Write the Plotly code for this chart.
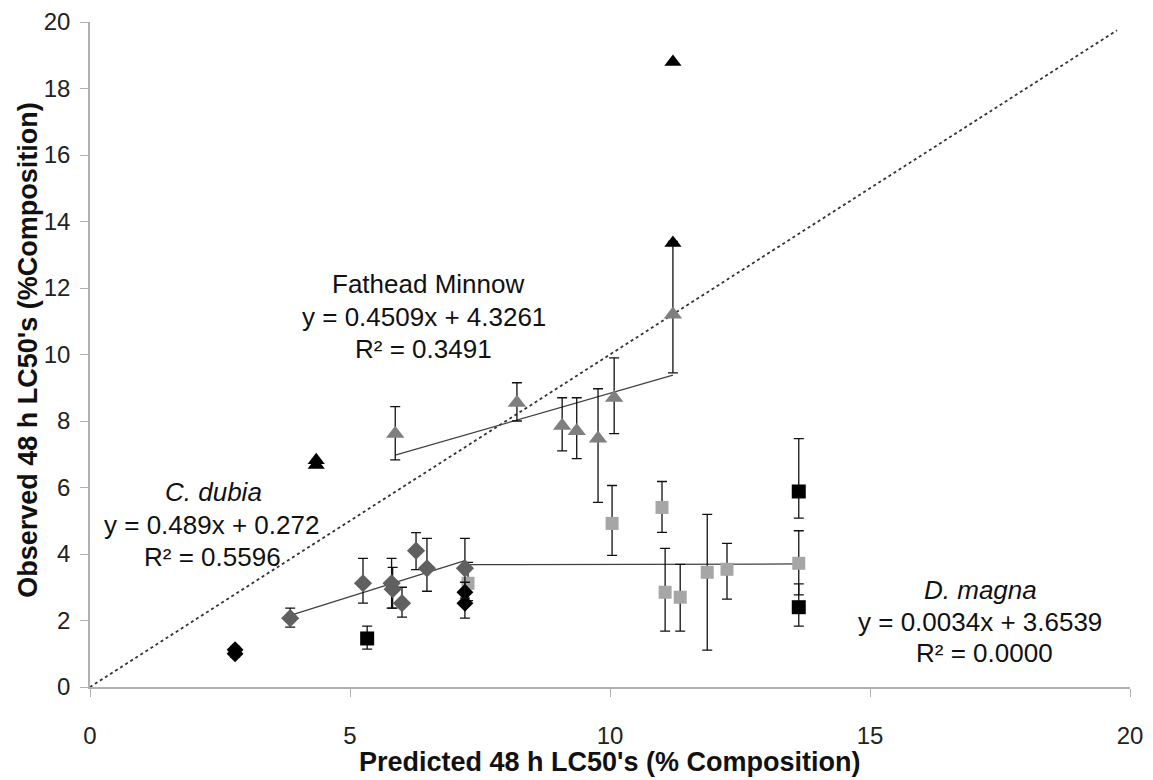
import plotly.graph_objects as go

# Fathead Minnow (gray triangles)
fm_x = [5.87, 8.21, 9.08, 9.36, 9.77, 10.08, 11.21]
fm_y = [7.62, 8.55, 7.86, 7.70, 7.47, 8.70, 11.20]
fm_plus = [0.81, 0.60, 0.84, 1.00, 1.50, 1.20, 2.20]
fm_minus = [0.79, 0.55, 0.76, 0.83, 1.92, 1.08, 1.75]
fm_bx = [4.35, 4.35, 11.21, 11.21]
fm_by = [6.82, 6.68, 13.35, 18.80]
fm_slope, fm_int = 0.4509, 4.3261

# C. dubia (dark gray diamonds)
cd_x = [3.85, 5.25, 5.80, 5.82, 6.00, 6.27, 6.48, 7.21]
cd_y = [2.07, 3.12, 3.12, 2.94, 2.52, 4.10, 3.57, 3.57]
cd_plus = [0.30, 0.75, 0.75, 0.66, 0.48, 0.54, 0.90, 0.90]
cd_minus = [0.27, 0.60, 0.75, 0.57, 0.42, 0.57, 0.69, 0.90]
cd_bx = [2.79, 2.79, 7.21, 7.21]
cd_by = [1.12, 1.00, 2.85, 2.52]
cd_bplus = [0.10, 0.10, 0.30, 0.30]
cd_bminus = [0.10, 0.10, 0.30, 0.45]
cd_slope, cd_int = 0.489, 0.272

# D. magna (light gray squares)
dm_x = [7.27, 10.04, 11.00, 11.06, 11.35, 11.87, 12.25, 13.63]
dm_y = [3.12, 4.92, 5.40, 2.85, 2.70, 3.45, 3.54, 3.72]
dm_plus = [0.63, 1.14, 0.78, 1.32, 0.99, 1.74, 0.78, 0.98]
dm_minus = [0.52, 0.96, 0.75, 1.17, 1.02, 2.34, 0.90, 0.95]
dm_bx = [5.33, 13.63, 13.63]
dm_by = [1.46, 5.88, 2.40]
dm_bplus = [0.37, 1.59, 0.70]
dm_bminus = [0.32, 0.80, 0.57]
dm_slope, dm_int = 0.0034, 3.6539

one_to_one = [-0.1, 19.75]

x_ticks = [0, 5, 10, 15, 20]
y_ticks = [0, 2, 4, 6, 8, 10, 12, 14, 16, 18, 20]

FONT = "Liberation Sans, Arial, sans-serif"

def err(plus, minus):
    return dict(type="data", array=plus, arrayminus=minus, symmetric=False,
                color="#111111", thickness=1.3, width=5)

fig = go.Figure()

# 1:1 line
fig.add_trace(go.Scatter(x=one_to_one, y=one_to_one, mode="lines", cliponaxis=False,
                         line=dict(color="#333333", width=1.8, dash="dot"),
                         showlegend=False, hoverinfo="skip"))

# trendlines
for xs, m, b in [(fm_x, fm_slope, fm_int), (cd_x, cd_slope, cd_int), (dm_x, dm_slope, dm_int)]:
    x0, x1 = min(xs), max(xs)
    fig.add_trace(go.Scatter(x=[x0, x1], y=[m * x0 + b, m * x1 + b], mode="lines",
                             line=dict(color="#404040", width=1.3),
                             showlegend=False, hoverinfo="skip"))

# D. magna
fig.add_trace(go.Scatter(x=dm_bx, y=dm_by, mode="markers",
                         marker=dict(symbol="square", size=14, color="#000000"),
                         error_y=err(dm_bplus, dm_bminus), showlegend=False))
fig.add_trace(go.Scatter(x=dm_x, y=dm_y, mode="markers",
                         marker=dict(symbol="square", size=13, color="#a6a6a6"),
                         error_y=err(dm_plus, dm_minus), showlegend=False))

# C. dubia
fig.add_trace(go.Scatter(x=cd_bx, y=cd_by, mode="markers",
                         marker=dict(symbol="diamond", size=13, color="#000000"),
                         error_y=err(cd_bplus, cd_bminus), showlegend=False))
fig.add_trace(go.Scatter(x=cd_x, y=cd_y, mode="markers",
                         marker=dict(symbol="diamond", size=14, color="#606060"),
                         error_y=err(cd_plus, cd_minus), showlegend=False))

# Fathead Minnow
fig.add_trace(go.Scatter(x=fm_x, y=fm_y, mode="markers",
                         marker=dict(symbol="triangle-up", size=16, color="#7f7f7f"),
                         error_y=err(fm_plus, fm_minus), showlegend=False))
fig.add_trace(go.Scatter(x=fm_bx, y=fm_by, mode="markers",
                         marker=dict(symbol="triangle-up", size=15, color="#000000"),
                         showlegend=False))

ann_font = dict(family=FONT, size=26, color="#111111")
annotations = [
    (6.5, 12.12, "Fathead Minnow"),
    (6.42, 11.13, "y = 0.4509x + 4.3261"),
    (6.42, 10.17, "R² = 0.3491"),
    (2.38, 5.87, "<i>C. dubia</i>"),
    (2.33, 4.86, "y = 0.489x + 0.272"),
    (2.35, 3.92, "R² = 0.5596"),
    (17.12, 2.91, "<i>D. magna</i>"),
    (17.12, 1.95, "y = 0.0034x + 3.6539"),
    (17.2, 1.02, "R² = 0.0000"),
]
for ax_, ay_, t in annotations:
    fig.add_annotation(x=ax_, y=ay_, text=t, showarrow=False, font=ann_font,
                       xanchor="center", yanchor="middle")

title_font = dict(family=FONT, size=27, color="#111111")
fig.add_annotation(xref="paper", yref="paper", x=0.5, y=-0.1135,
                   text="<b>Predicted 48 h LC50's (% Composition)</b>",
                   showarrow=False, font=title_font, xanchor="center", yanchor="middle")
fig.add_annotation(xref="paper", yref="paper", x=-0.0596, y=0.507, textangle=-90,
                   text="<b>Observed 48 h LC50's (%Composition)</b>",
                   showarrow=False, font=title_font, xanchor="center", yanchor="middle")

axis_common = dict(showgrid=False, zeroline=False, showline=True, automargin=False,
                   linecolor="#b0b0b0", linewidth=1.5, ticks="outside",
                   tickcolor="#b0b0b0", tickwidth=1.2,
                   tickfont=dict(family=FONT, size=24, color="#222222"))

fig.update_xaxes(range=[0, 20], tickvals=x_ticks, ticklen=8, ticklabelstandoff=18,
                 **axis_common)
fig.update_yaxes(range=[0, 20], tickvals=y_ticks, ticklen=8, ticklabelstandoff=5,
                 **axis_common)

fig.update_layout(width=1145, height=772, plot_bgcolor="white", paper_bgcolor="white",
                  margin=dict(l=82, r=23, t=14, b=93), showlegend=False)

fig.write_html("out.html")
